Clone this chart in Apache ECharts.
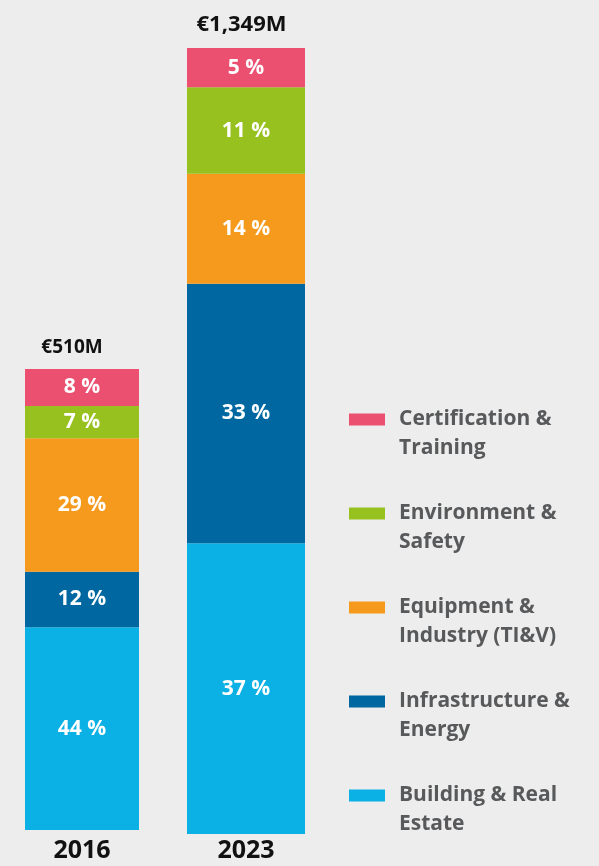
<!DOCTYPE html>
<html>
<head>
<meta charset="utf-8">
<script src="https://cdn.jsdelivr.net/npm/echarts@6/dist/echarts.min.js"></script>
<style>
  html, body { margin: 0; padding: 0; background: #ededed; }
  #chart { width: 599px; height: 866px; }
</style>
</head>
<body>
<div id="chart"></div>
<script>
// 数据
const years = ['2016', '2023'];
const totals = ['€510M', '€1,349M'];
// 自下而上的堆叠顺序
const segments = [
  'Building & Real Estate',
  'Infrastructure & Energy',
  'Equipment & Industry (TI&V)',
  'Environment & Safety',
  'Certification & Training'
];
const share2016 = [44, 12, 29, 7, 8];
const share2023 = [37, 33, 14, 11, 5];
const legendLines = {
  'Certification & Training': 'Certification &\nTraining',
  'Environment & Safety': 'Environment &\nSafety',
  'Equipment & Industry (TI&V)': 'Equipment &\nIndustry (TI&V)',
  'Infrastructure & Energy': 'Infrastructure &\nEnergy',
  'Building & Real Estate': 'Building & Real\nEstate'
};

const COLORS = ['#0bb0e4', '#0067a0', '#f59a1c', '#97c11f', '#eb5070'];
const FONT = '"Open Sans", Lato, sans-serif';

const shares = [share2016, share2023];

// 两个柱子高度不同，各用一个 grid
const grids = [
  { left: 25, width: 114, top: 369, bottom: 36 },
  { left: 187, width: 118, top: 48, bottom: 32 }
];
const bottomMargins = [8, 4];
const totalFont = [19, 22];
const totalShift = [20, 9]; // 总额标签略偏左

const xAxis = [];
const yAxis = [];
const series = [];

years.forEach((year, g) => {
  xAxis.push({
    type: 'category',
    gridIndex: g,
    data: [year],
    axisLine: { show: false },
    axisTick: { show: false },
    axisLabel: { color: '#111', fontSize: 25, fontWeight: 'bold', fontFamily: FONT, margin: bottomMargins[g] }
  });
  xAxis.push({
    type: 'category',
    gridIndex: g,
    position: 'top',
    data: [totals[g]],
    axisLine: { show: false },
    axisTick: { show: false },
    axisLabel: {
      color: '#111',
      fontSize: totalFont[g],
      fontWeight: 'bold',
      fontFamily: FONT,
      margin: 12,
      padding: [0, totalShift[g], 0, 0]
    }
  });
  yAxis.push({ type: 'value', gridIndex: g, min: 0, max: 100, show: false });

  segments.forEach((name, i) => {
    series.push({
      name,
      type: 'bar',
      stack: 'total' + g,
      xAxisIndex: g * 2,
      yAxisIndex: g,
      barWidth: '100%',
      data: [shares[g][i]],
      itemStyle: { color: COLORS[i] },
      label: {
        show: true,
        position: 'inside',
        formatter: '{c} %',
        color: '#fff',
        fontSize: 21,
        fontWeight: 'bold',
        fontFamily: FONT
      },
      emphasis: { disabled: true }
    });
  });
});

const option = {
  backgroundColor: '#ededed',
  animation: false,
  grid: grids,
  xAxis,
  yAxis,
  legend: {
    orient: 'vertical',
    left: 349,
    top: 376,
    padding: 0,
    itemWidth: 36,
    itemHeight: 12,
    itemGap: 7,
    icon: 'rect',
    selectedMode: false,
    data: segments.slice().reverse(),
    // 开头加空行，让色块对齐第一行文字
    formatter: name => '\n' + legendLines[name],
    textStyle: {
      color: '#58595b',
      fontSize: 21,
      fontWeight: 'bold',
      fontFamily: FONT,
      lineHeight: 29,
      padding: [0, 0, 0, 9]
    }
  },
  series
};

const myChart = echarts.init(document.getElementById('chart'));
myChart.setOption(option);
</script>
</body>
</html>
